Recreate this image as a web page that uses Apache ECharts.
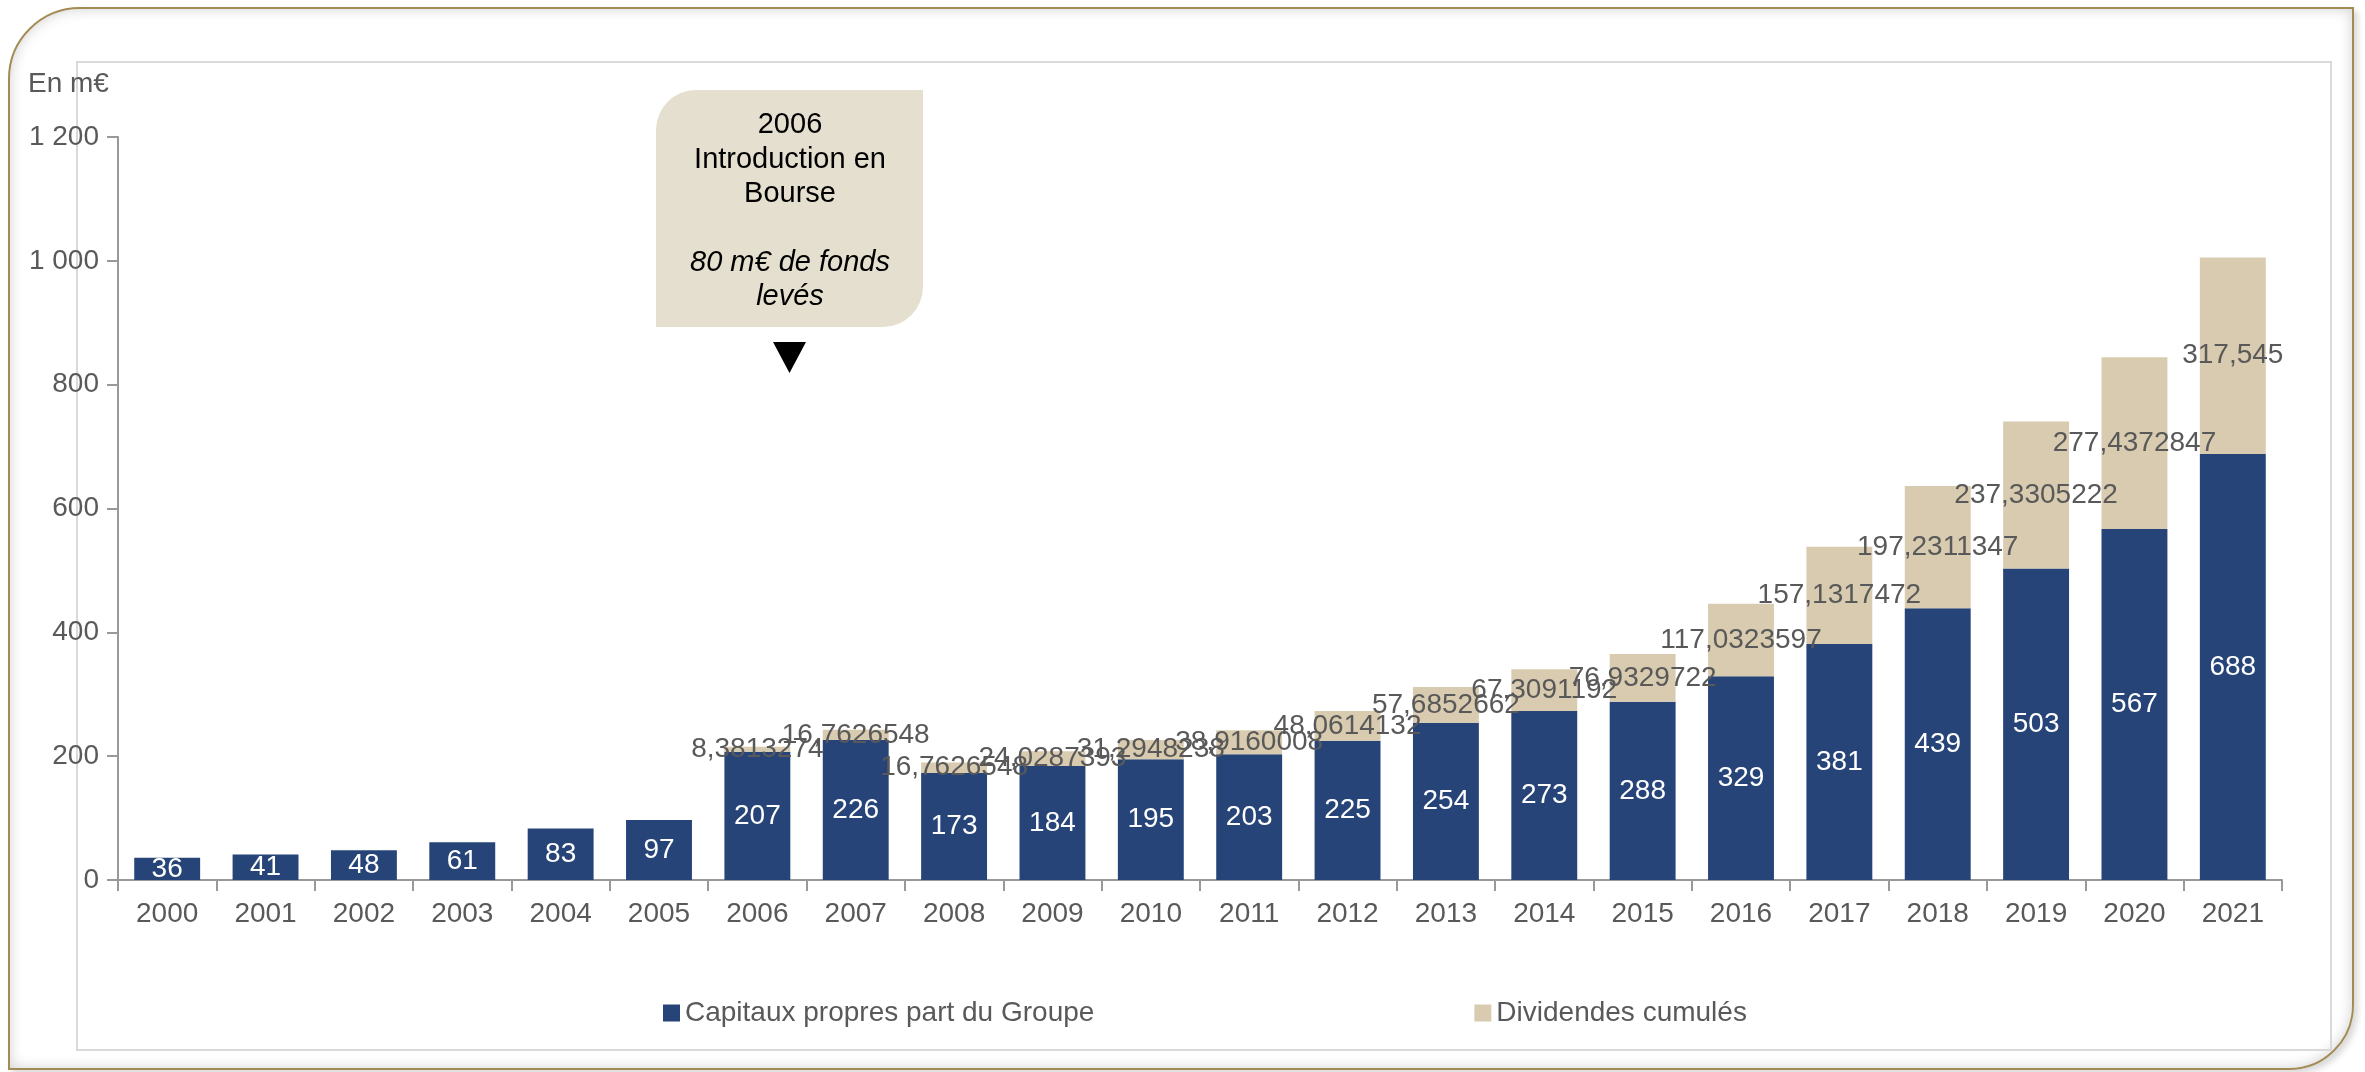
<!DOCTYPE html>
<html>
<head>
<meta charset="utf-8">
<script src="https://cdn.jsdelivr.net/npm/echarts@6/dist/echarts.min.js"></script>
<style>
    html, body { margin: 0; padding: 0; background: #fff; }
    .frame {
        position: absolute; left: 8px; top: 7px; width: 2342px; height: 1059px;
        border: 2px solid #a38b55;
        border-radius: 72px 0 65px 0;
        box-shadow: inset 0 0 14px rgba(0,0,0,0.18), 4px 4px 6px rgba(0,0,0,0.15);
    }
    #chart { position: absolute; left: 0; top: 0; width: 2365px; height: 1072px; }
</style>
</head>
<body>
<div class="frame"></div>
<div id="chart"></div>
<script>
    var years = ['2000','2001','2002','2003','2004','2005','2006','2007','2008','2009','2010',
                 '2011','2012','2013','2014','2015','2016','2017','2018','2019','2020','2021'];
    var capitaux = [36, 41, 48, 61, 83, 97, 207, 226, 173, 184, 195, 203, 225, 254, 273, 288, 329, 381, 439, 503, 567, 688];
    var dividendes = [0, 0, 0, 0, 0, 0, 8.3813274, 16.7626548, 16.7626548, 24.0287393, 31.2948238, 38.9160008,
                      48.0614132, 57.6852662, 67.3091192, 76.9329722, 117.0323597, 157.1317472, 197.2311347,
                      237.3305222, 277.4372847, 317.545];
    var yTicks = [0, 200, 400, 600, 800, 1000, 1200];

    var font = '"Liberation Sans", Arial, sans-serif';
    var grey = '#595959';

    var chart = echarts.init(document.getElementById('chart'));
    chart.setOption({
        backgroundColor: 'transparent',
        textStyle: { fontFamily: font },
        animation: false,
        grid: { left: 118, right: 83, top: 137, bottom: 192, containLabel: false },
        legend: {
            left: 658, top: 994,
            itemWidth: 17, itemHeight: 17, itemGap: 380,
            icon: 'rect',
            textStyle: { fontSize: 28, color: grey, fontFamily: font },
            data: ['Capitaux propres part du Groupe', 'Dividendes cumulés']
        },
        xAxis: {
            type: 'category',
            data: years,
            axisLine: { lineStyle: { color: '#999', width: 2 } },
            axisTick: { show: true, length: 11, lineStyle: { color: '#999', width: 2 } },
            axisLabel: { fontSize: 28, color: grey, margin: 20, fontFamily: font }
        },
        yAxis: {
            type: 'value',
            min: yTicks[0], max: yTicks[yTicks.length - 1], interval: 200,
            axisLine: { show: true, lineStyle: { color: '#999', width: 2 } },
            axisTick: { show: true, length: 11, lineStyle: { color: '#999', width: 2 } },
            splitLine: { show: false },
            axisLabel: {
                fontSize: 28, color: grey, margin: 19, fontFamily: font,
                formatter: function (v) { return String(v).replace(/\B(?=(\d{3})+(?!\d))/g, ' '); }
            }
        },
        series: [
            {
                name: 'Capitaux propres part du Groupe',
                type: 'bar',
                stack: 'total',
                barCategoryGap: '33%',
                data: capitaux,
                itemStyle: { color: '#264478' },
                label: { show: true, position: 'inside', color: '#fff', fontSize: 28, fontFamily: font }
            },
            {
                name: 'Dividendes cumulés',
                type: 'bar',
                stack: 'total',
                data: dividendes,
                itemStyle: { color: '#d8cbaf' },
                label: {
                    show: true, position: 'inside', color: grey, fontSize: 28, fontFamily: font,
                    formatter: function (p) { return p.value ? String(p.value).replace('.', ',') : ''; }
                }
            }
        ],
        graphic: [
            {
                type: 'rect', z: -10, silent: true,
                shape: { x: 77, y: 62, width: 2254, height: 988 },
                style: { fill: null, stroke: '#d9d9d9', lineWidth: 2 }
            },
            {
                type: 'text', left: 28, top: 70,
                style: { text: 'En m€', font: '28px ' + font, fill: grey }
            },
            // encadré introduction en bourse
            {
                type: 'rect', z: 50,
                shape: { x: 656, y: 90, width: 267, height: 237, r: [40, 0, 40, 0] },
                style: { fill: '#e4dfce' }
            },
            {
                type: 'text', z: 51, x: 790, y: 159.5,
                style: {
                    text: '2006\nIntroduction en\nBourse', font: '29px ' + font, fill: '#000',
                    align: 'center', verticalAlign: 'middle', lineHeight: 34.5
                }
            },
            {
                type: 'text', z: 51, x: 790, y: 280,
                style: {
                    text: '80 m€ de fonds\nlevés', font: 'italic 29px ' + font, fill: '#000',
                    align: 'center', verticalAlign: 'middle', lineHeight: 34.5
                }
            },
            {
                type: 'polygon', z: 51,
                shape: { points: [[773, 342], [806, 342], [789.5, 373]] },
                style: { fill: '#000' }
            }
        ]
    });
</script>
</body>
</html>
